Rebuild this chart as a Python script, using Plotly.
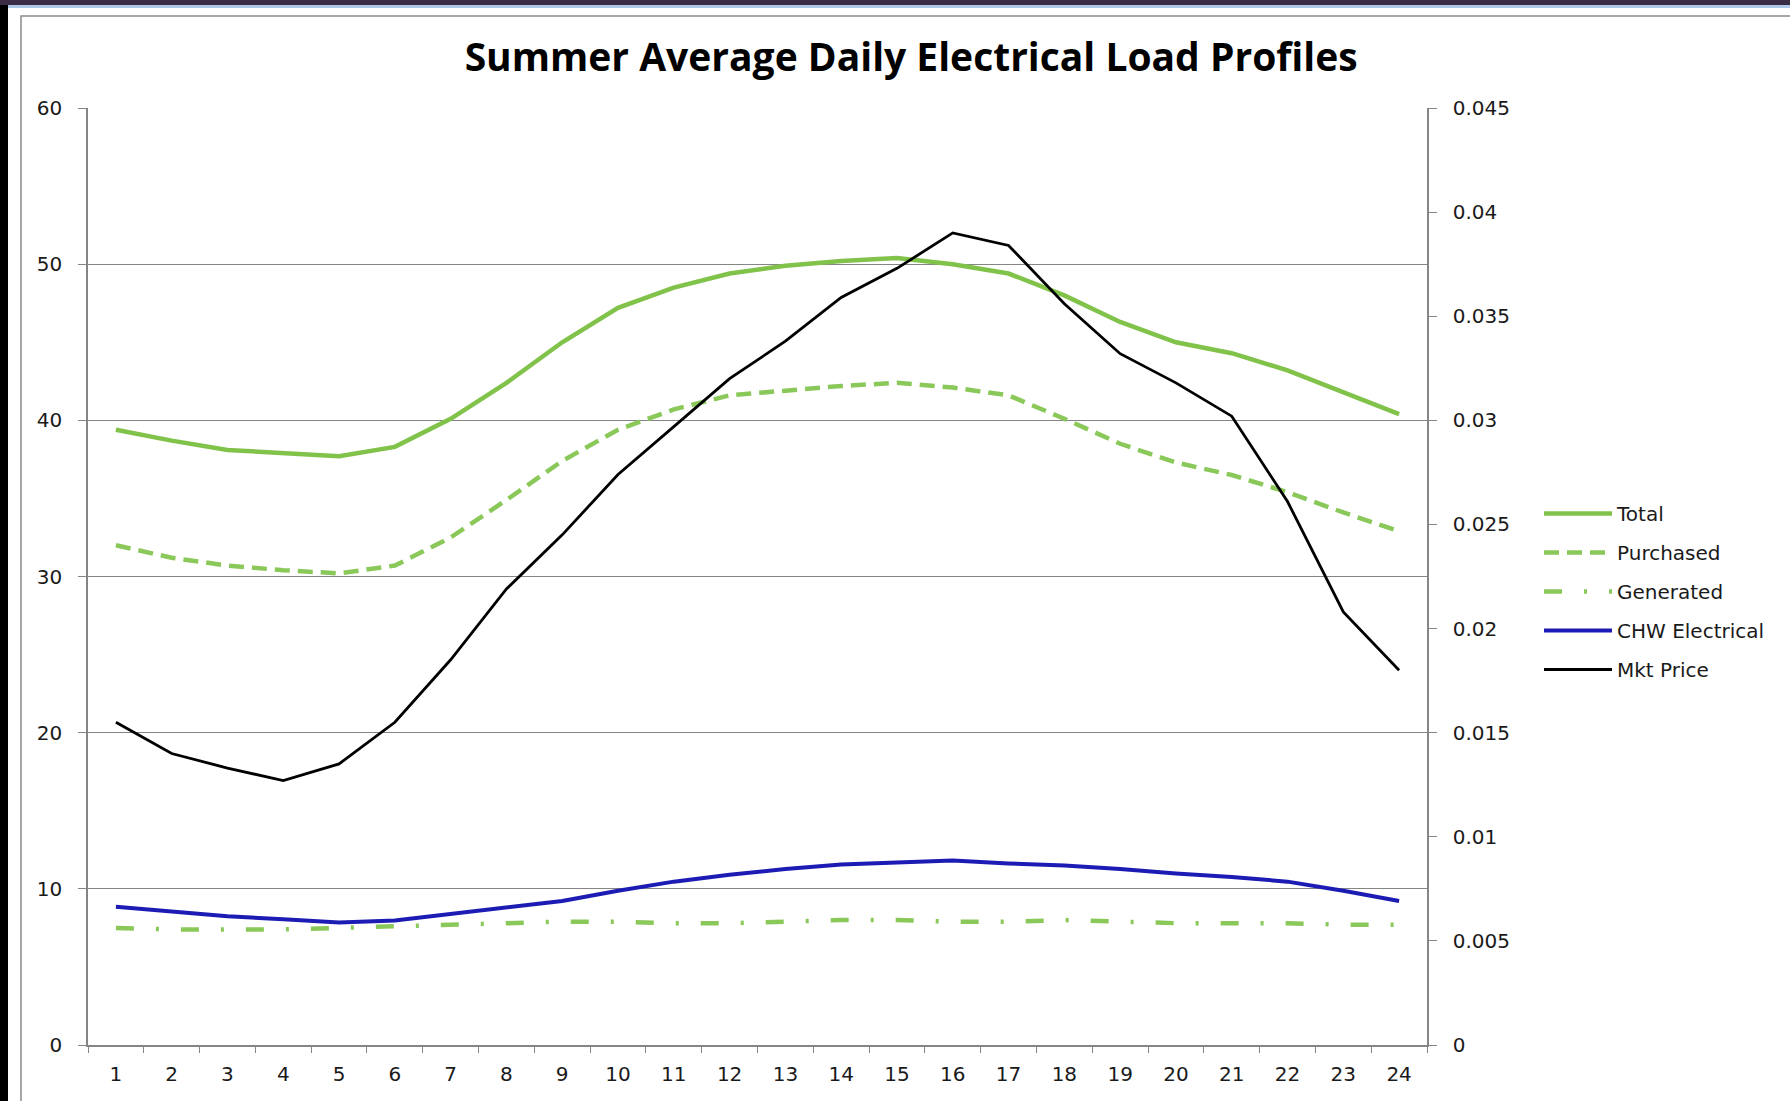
import plotly.graph_objects as go

# ---------------- data ----------------
hours = [str(h) for h in range(1, 25)]

total = [39.4, 38.7, 38.1, 37.9, 37.7, 38.3, 40.1, 42.4, 45.0, 47.2, 48.5, 49.4,
         49.9, 50.2, 50.4, 50.0, 49.4, 48.0, 46.3, 45.0, 44.3, 43.2, 41.8, 40.4]
purchased = [32.0, 31.2, 30.7, 30.4, 30.2, 30.7, 32.5, 34.9, 37.4, 39.4, 40.7, 41.6,
             41.9, 42.2, 42.4, 42.1, 41.6, 40.1, 38.5, 37.3, 36.5, 35.4, 34.1, 32.9]
generated = [7.5, 7.4, 7.4, 7.4, 7.5, 7.6, 7.7, 7.8, 7.9, 7.9, 7.8, 7.8,
             7.9, 8.0, 8.0, 7.9, 7.9, 8.0, 7.9, 7.8, 7.8, 7.8, 7.7, 7.7]
chw_electrical = [8.85, 8.55, 8.25, 8.05, 7.85, 7.98, 8.4, 8.78, 9.22, 9.88, 10.46, 10.9,
                  11.27, 11.56, 11.71, 11.82, 11.63, 11.49, 11.27, 10.98, 10.76, 10.46, 9.88, 9.22]
mkt_price = [0.0155, 0.0140, 0.0133, 0.0127, 0.0135, 0.0155, 0.0185, 0.0219, 0.0245, 0.0274,
             0.0297, 0.0320, 0.0338, 0.0359, 0.0373, 0.0390, 0.0384, 0.0356, 0.0332, 0.0318,
             0.0302, 0.0261, 0.0208, 0.0180]

left_ticks = [0, 10, 20, 30, 40, 50, 60]
right_ticks = [0, 0.005, 0.01, 0.015, 0.02, 0.025, 0.03, 0.035, 0.04, 0.045]
right_tick_labels = ["0", "0.005", "0.01", "0.015", "0.02", "0.025", "0.03", "0.035", "0.04", "0.045"]

title_text = "Summer Average Daily Electrical Load Profiles"

# ---------------- style ----------------
W, H = 1790, 1101
ML, MR, MT, MB = 88, 363, 108, 56
PW, PH = W - ML - MR, H - MT - MB

GREEN = "#80C24A"
LGREEN = "#8AC85A"
BLUE = "#1C1CB4"
GRID = "#858585"
FONT = "DejaVu Sans"
FS = 20


def px_x(px):
    return (px - ML) / PW


def px_y(py):
    return (H - MB - py) / PH


fig = go.Figure()
fig.add_trace(go.Scatter(x=hours, y=total, name="Total", mode="lines", legendgroup="a",
                         line=dict(color=GREEN, width=4.5)))
fig.add_trace(go.Scatter(x=hours, y=purchased, name="Purchased", mode="lines", legendgroup="b",
                         line=dict(color=LGREEN, width=4.5, dash="15px,8px")))
fig.add_trace(go.Scatter(x=hours, y=generated, name="Generated", mode="lines", legendgroup="c",
                         line=dict(color=LGREEN, width=4.5, dash="18px,22px,3px,22px")))
fig.add_trace(go.Scatter(x=hours, y=chw_electrical, name="CHW Electrical", mode="lines", legendgroup="d",
                         line=dict(color=BLUE, width=4)))
fig.add_trace(go.Scatter(x=hours, y=mkt_price, name="Mkt Price", mode="lines", legendgroup="e",
                         yaxis="y2", line=dict(color="#000000", width=2.8)))

shapes = [
    dict(type="rect", xref="paper", yref="paper", x0=px_x(0), x1=px_x(8), y0=px_y(H), y1=px_y(0),
         fillcolor="#000000", line=dict(width=0), layer="above"),
    dict(type="rect", xref="paper", yref="paper", x0=px_x(0), x1=px_x(W), y0=px_y(5), y1=px_y(0),
         fillcolor="#3a2d45", line=dict(width=0), layer="above"),
    dict(type="rect", xref="paper", yref="paper", x0=px_x(8), x1=px_x(W), y0=px_y(8), y1=px_y(5),
         fillcolor="#b0c8e8", line=dict(width=0), layer="above"),
    dict(type="rect", xref="paper", yref="paper", x0=px_x(21), x1=px_x(W + 10), y0=px_y(H + 10), y1=px_y(16),
         fillcolor="rgba(0,0,0,0)", line=dict(color="#8a8a8a", width=1.5), layer="below"),
]

fig.update_layout(
    width=W, height=H,
    margin=dict(l=ML, r=MR, t=MT, b=MB),
    paper_bgcolor="#ffffff", plot_bgcolor="#ffffff",
    font=dict(family=FONT, size=FS, color="#1a1a1a"),
    title=dict(text="<b>" + title_text + "</b>", x=0.509, xanchor="center", y=1 - 57 / H, yanchor="middle",
               font=dict(family="Open Sans", size=39, color="#000000")),
    showlegend=True,
    legend=dict(x=px_x(1539), xanchor="left", y=px_y(494), yanchor="top",
                font=dict(family=FONT, size=FS, color="#1a1a1a"),
                tracegroupgap=10, itemwidth=68, bgcolor="rgba(0,0,0,0)"),
    xaxis=dict(type="category", range=[-0.5, 23.5], tickson="boundaries", ticks="outside", ticklen=6,
               tickcolor=GRID, showline=True, linecolor=GRID, linewidth=1.5, showgrid=False, zeroline=False,
               tickfont=dict(family=FONT, size=FS), ticklabelstandoff=10),
    yaxis=dict(range=[0, 60], tickvals=left_ticks, ticks="outside", ticklen=8, tickcolor=GRID,
               showline=True, linecolor=GRID, linewidth=1.5, showgrid=True, gridcolor=GRID, gridwidth=1,
               zeroline=False, tickfont=dict(family=FONT, size=FS), ticklabelstandoff=12),
    yaxis2=dict(range=[0, 0.045], tickvals=right_ticks, ticktext=right_tick_labels, overlaying="y",
                side="right", ticks="outside", ticklen=8, tickcolor=GRID, showline=True, linecolor=GRID,
                linewidth=1.5, showgrid=False, zeroline=False, tickfont=dict(family=FONT, size=FS),
                ticklabelstandoff=12),
    shapes=shapes,
)

fig.write_html("out.html", config={"displayModeBar": False},
               post_script="document.body.style.margin='0';")
